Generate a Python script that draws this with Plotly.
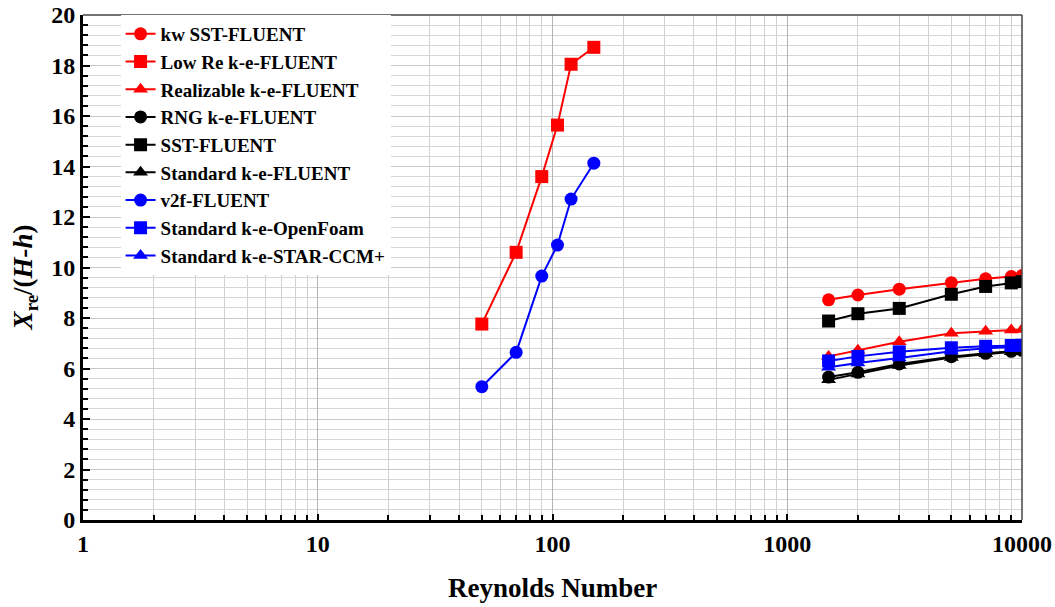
import plotly.graph_objects as go

# ---- data ----
re_low = [50, 70, 90, 105, 120, 150]
low_re_ke_fluent = [7.76, 10.6, 13.6, 15.64, 18.05, 18.72]
v2f_fluent = [5.28, 6.64, 9.66, 10.89, 12.71, 14.13]

re_high = [1500, 2000, 3000, 5000, 7000, 9000, 10000]
kw_sst_fluent = [8.72, 8.91, 9.14, 9.40, 9.55, 9.64, 9.68]
realizable_ke_fluent = [6.48, 6.72, 7.06, 7.40, 7.48, 7.52, 7.54]
rng_ke_fluent = [5.66, 5.85, 6.18, 6.47, 6.60, 6.68, 6.72]
sst_fluent = [7.88, 8.17, 8.38, 8.94, 9.25, 9.39, 9.44]
standard_ke_fluent = [5.55, 5.78, 6.12, 6.44, 6.58, 6.66, 6.70]
standard_ke_openfoam = [6.30, 6.48, 6.66, 6.82, 6.88, 6.91, 6.92]
standard_ke_starccm = [6.05, 6.22, 6.42, 6.68, 6.80, 6.85, 6.87]

x_tickvals = [1, 10, 100, 1000, 10000]
x_ticktext = ["1", "10", "100", "1000", "10000"]

RED = "#ff0000"
BLACK = "#000000"
BLUE = "#0000ff"

series = [
    ("kw SST-FLUENT", re_high, kw_sst_fluent, RED, "circle"),
    ("Low Re k-e-FLUENT", re_low, low_re_ke_fluent, RED, "square"),
    ("Realizable k-e-FLUENT", re_high, realizable_ke_fluent, RED, "triangle-up"),
    ("RNG k-e-FLUENT", re_high, rng_ke_fluent, BLACK, "circle"),
    ("SST-FLUENT", re_high, sst_fluent, BLACK, "square"),
    ("Standard k-e-FLUENT", re_high, standard_ke_fluent, BLACK, "triangle-up"),
    ("v2f-FLUENT", re_low, v2f_fluent, BLUE, "circle"),
    ("Standard k-e-OpenFoam", re_high, standard_ke_openfoam, BLUE, "square"),
    ("Standard k-e-STAR-CCM+", re_high, standard_ke_starccm, BLUE, "triangle-up"),
]

fig = go.Figure()
for name, xs, ys, col, sym in series:
    fig.add_trace(go.Scatter(
        x=xs, y=ys, name=name, mode="lines+markers",
        line=dict(color=col, width=2),
        marker=dict(color=col, symbol=sym, size=13),
    ))

FONT = "Liberation Serif"

fig.update_layout(
    width=1055, height=607,
    margin=dict(l=83, r=33, t=15, b=87, autoexpand=False),
    paper_bgcolor="white", plot_bgcolor="white",
    font=dict(family=FONT, color="black"),
    showlegend=True,
    legend=dict(
        x=0.04, y=1.0, xanchor="left", yanchor="top",
        bgcolor="white", borderwidth=0,
        font=dict(family=FONT, size=19, color="black", weight="bold"),
        tracegroupgap=0,
    ),
)

fig.update_xaxes(
    type="log", range=[0, 4], automargin=False, ticklabeloverflow="allow",
    tickvals=x_tickvals, ticktext=x_ticktext,
    ticks="inside", ticklen=6, tickwidth=2, tickcolor="black",
    tickfont=dict(family=FONT, size=24, color="black", weight="bold"),
    showgrid=True, gridcolor="#b5b5b5", gridwidth=1,
    minor=dict(ticks="inside", ticklen=5, tickwidth=1.5, tickcolor="black",
               showgrid=True, gridcolor="#cfcfcf", gridwidth=1, dtick="D1"),
    showline=True, linecolor="black", linewidth=3,
    zeroline=False,
)
fig.update_yaxes(
    range=[0, 20], dtick=2, automargin=False, ticklabeloverflow="allow",
    ticks="inside", ticklen=7, tickwidth=2, tickcolor="black",
    tickfont=dict(family=FONT, size=24, color="black", weight="bold"),
    showgrid=True, gridcolor="#c8c8c8", gridwidth=1,
    minor=dict(ticks="inside", ticklen=5, tickwidth=1.5, tickcolor="black",
               showgrid=True, gridcolor="#d6d6d6", gridwidth=1, dtick=0.4),
    showline=True, linecolor="black", linewidth=3,
    zeroline=False,
)

# axis titles
fig.add_annotation(text="Reynolds Number", xref="paper", yref="paper",
                   x=0.5, y=-0.135, xanchor="center", yanchor="middle",
                   showarrow=False,
                   font=dict(family=FONT, size=27, color="black", weight="bold"))
fig.add_annotation(text="<i>X</i><sub>re</sub>/(<i>H-h</i>)", xref="paper", yref="paper",
                   x=-0.062, y=0.48, xanchor="center", yanchor="middle",
                   textangle=-90, showarrow=False,
                   font=dict(family=FONT, size=27, color="black", weight="bold"))

# thin top/right frame
fig.add_shape(type="line", xref="x domain", yref="y domain", x0=0, x1=1, y0=1, y1=1,
              line=dict(color="#444444", width=1.5), layer="above")
fig.add_shape(type="line", xref="x domain", yref="y domain", x0=1, x1=1, y0=0, y1=1,
              line=dict(color="#444444", width=1.5), layer="above")

# remove the default page margin so the figure fills the window exactly
fig.write_html("out.html",
               config={"displayModeBar": False},
               post_script="document.body.style.margin='0';document.body.style.overflow='hidden';")
